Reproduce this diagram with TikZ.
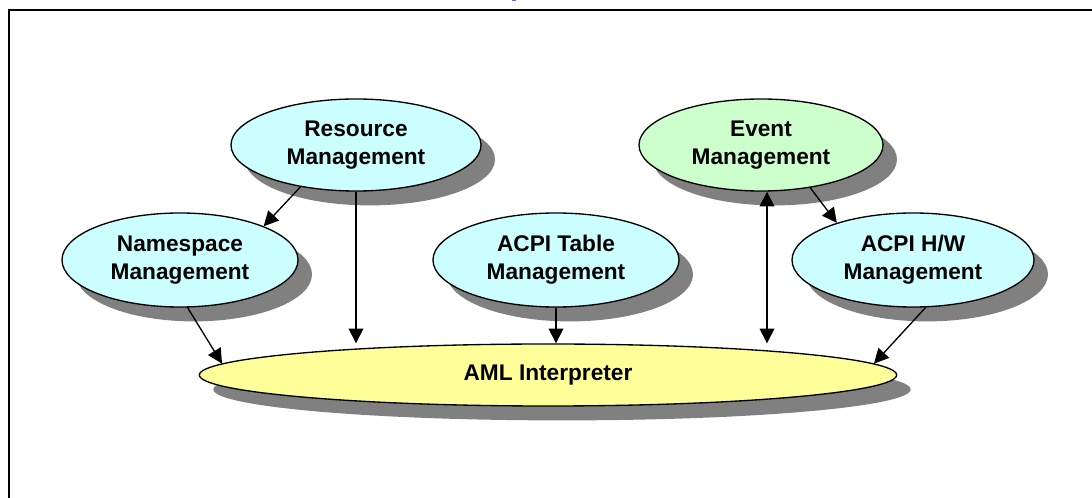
\documentclass[tikz,border=0pt]{standalone}
\usepackage{fontspec}
\setmainfont{Liberation Sans}
\usetikzlibrary{shapes.geometric,shadows,arrows.meta,calc}
\definecolor{cyanfill}{HTML}{CCFFFF}
\definecolor{greenfill}{HTML}{CCFFCC}
\definecolor{yellowfill}{HTML}{FFFF99}
\definecolor{shadowgray}{HTML}{808080}
\definecolor{titleblue}{HTML}{6666FF}
\begin{document}
\begin{tikzpicture}[x=0.75pt,y=-0.75pt,
  bubble/.style={ellipse, draw=black, line width=1pt, inner sep=0pt, align=center,
    font=\fontsize{17}{21}\selectfont\bfseries,
    general shadow={fill=shadowgray, shadow xshift=10.5pt, shadow yshift=-10.8pt}},
  link/.style={line width=1pt, -{Triangle[length=11pt,width=11pt]}},
  biglink/.style={line width=1pt, {Triangle[length=11pt,width=11pt]}-{Triangle[length=11pt,width=11pt]}}]
\useasboundingbox (0,0) rectangle (1092,498);
% frame
\draw[line width=1.5pt] (9,498) -- (9,10) -- (1092,10);
\fill[titleblue] (512,0) rectangle (516,1.5);
% nodes
\node[bubble, fill=cyanfill, minimum width=187.5pt, minimum height=69pt] (res) at (356,145) {Resource\\Management};
\node[bubble, fill=greenfill, minimum width=183pt, minimum height=69pt] (ev) at (761,145) {Event\\Management};
\node[bubble, fill=cyanfill, minimum width=177pt, minimum height=70.5pt] (ns) at (180,260) {Namespace\\Management};
\node[bubble, fill=cyanfill, minimum width=184.5pt, minimum height=70.5pt] (tab) at (556,260) {ACPI Table\\Management};
\node[bubble, fill=cyanfill, minimum width=181.5pt, minimum height=70.5pt] (hw) at (913,260) {ACPI H/W\\Management};
\node[bubble, fill=yellowfill, minimum width=523pt, minimum height=46.5pt] (aml) at (548,375) {AML Interpreter};
% connectors
\coordinate (evb) at ($(ev.south)+(6,0)$);
\draw[link] (res.217) -- (ns.22);
\draw[link] (res.south) -- (res.south |- aml.north);
\draw[link] (ns.-81) -- (aml.178);
\draw[link] (tab.south) -- (tab.south |- aml.north);
\draw[biglink] (evb) -- (evb |- aml.north);
\draw[link] (ev.-41) -- (hw.154);
\draw[link] (hw.-75) -- (aml.2);
\end{tikzpicture}
\end{document}
